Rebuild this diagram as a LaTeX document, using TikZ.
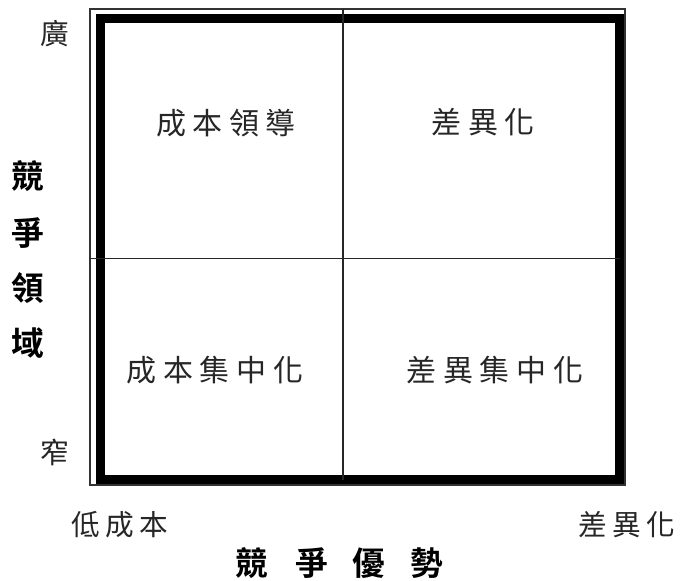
\documentclass[tikz,border=0pt]{standalone}
\usepackage{fontspec}
\newfontfamily\cjk{Noto Sans CJK TC}
\newfontfamily\cjkb{Noto Sans CJK TC Bold}
\tikzset{
  px/.style={x=0.75pt,y=-0.75pt},
  thinframe/.style={draw=black!80,line width=0.8pt},
  thickframe/.style={draw=black,line width=6.75pt},
  divider/.style={draw=black!85,line width=1pt},
  qlabel/.style={inner sep=0pt,font=\cjk\fontsize{22.5}{26}\selectfont,text=black!85},
  slabel/.style={inner sep=0pt,font=\cjk\fontsize{21.5}{26}\selectfont,text=black!85},
  axlabel/.style={inner sep=0pt,font=\cjkb\fontsize{24.5}{28}\selectfont,text=black}
}
\begin{document}
\begin{tikzpicture}[px]
\useasboundingbox (0,0) rectangle (681,581);
% frames
\coordinate (oTL) at (90,9);
\coordinate (oBR) at (625,485);
\coordinate (tTL) at (100.5,18.5);
\coordinate (tBR) at (619.5,479.5);
\draw[thinframe] (oTL) rectangle (oBR);
\draw[thickframe] (tTL) rectangle (tBR);
% dividers
\coordinate (vT) at (343,9);
\coordinate (vB) at (343,479.5);
\coordinate (hL) at (90,258.5);
\coordinate (hR) at (619.5,258.5);
\draw[divider] (vT) -- (vB);
\draw[divider] (hL) -- (hR);
% quadrant labels
\node[qlabel] (q1) at (226,123) {成\kern5pt 本\kern5pt 領\kern5pt 導};
\node[qlabel] (q2) at (483,122) {差\kern5pt 異\kern5pt 化};
\node[qlabel] (q3) at (215,370) {成\kern5pt 本\kern5pt 集\kern5pt 中\kern5pt 化};
\node[qlabel] (q4) at (495,370) {差\kern5pt 異\kern5pt 集\kern5pt 中\kern5pt 化};
% scale labels
\node[slabel] (wide) at (55,34) {廣};
\node[slabel] (narrow) at (55,452) {窄};
\node[slabel] (low) at (120,525) {低\kern4pt 成\kern4pt 本};
\node[slabel] (diff) at (627,525) {差\kern4pt 異\kern4pt 化};
% axis titles
\node[axlabel] (y1) at (27.5,176) {競};
\node[axlabel] (y2) at (27.5,233) {爭};
\node[axlabel] (y3) at (27.5,288) {領};
\node[axlabel] (y4) at (27.5,343) {域};
\node[axlabel] (x1) at (252,563) {競};
\node[axlabel] (x2) at (312,563) {爭};
\node[axlabel] (x3) at (369,563) {優};
\node[axlabel] (x4) at (427,563) {勢};
\end{tikzpicture}
\end{document}
